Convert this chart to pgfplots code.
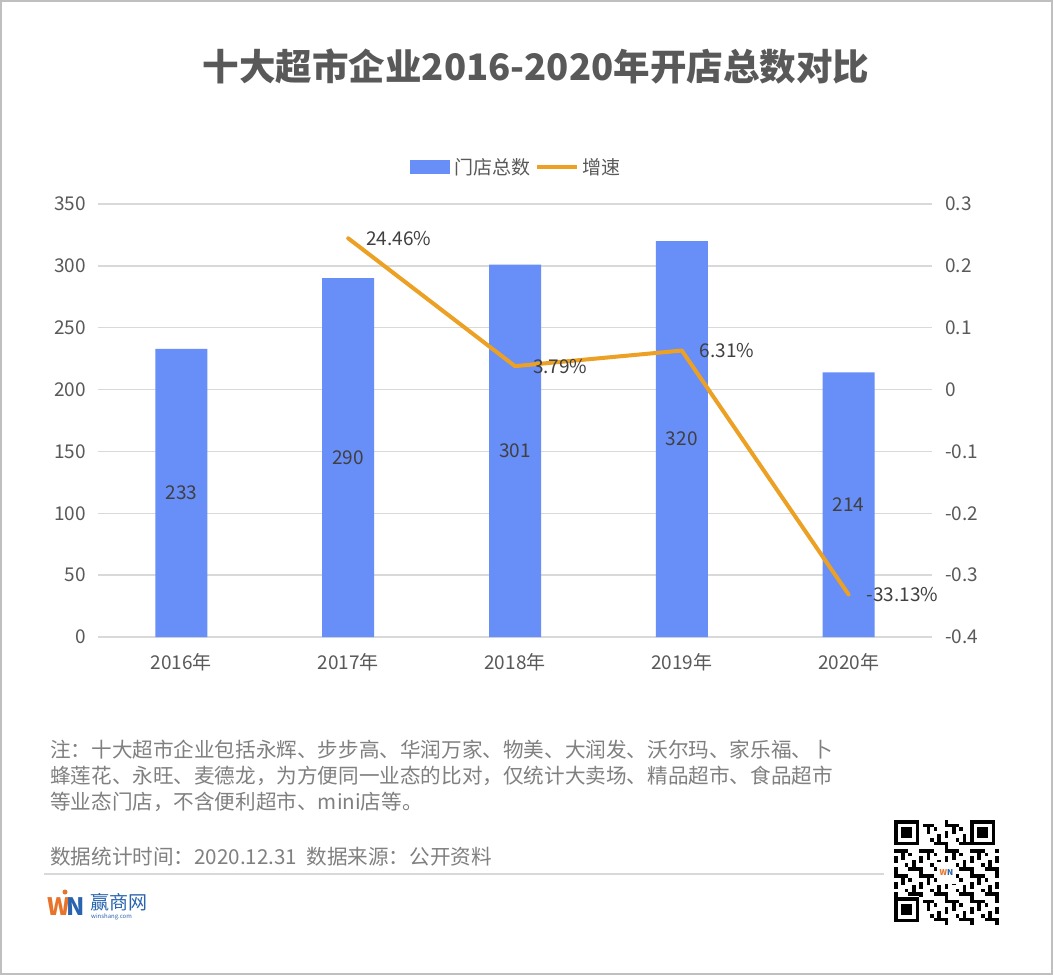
\documentclass[border=0pt]{standalone}
\usepackage{pgfplots}
\pgfplotsset{compat=1.18}
\usepackage{fontspec}
\setmainfont{Noto Sans CJK SC}
\definecolor{barblue}{RGB}{104,142,248}
\definecolor{lineorange}{RGB}{236,160,36}
\definecolor{txtgray}{RGB}{89,89,89}
\definecolor{lblgray}{RGB}{64,64,64}
\definecolor{notegray}{RGB}{128,128,128}
\definecolor{gridgray}{RGB}{217,217,217}
\definecolor{bordergray}{RGB}{191,191,191}
\definecolor{wnorange}{RGB}{232,115,42}
\definecolor{wnblue}{RGB}{40,100,175}
\newcommand{\lblfont}{\fontsize{19}{23}\selectfont}
\begin{document}
\begin{tikzpicture}[x=1pt,y=1pt]
\fill[white] (0,0) rectangle (1053,-975);
\draw[bordergray, line width=2pt] (1,-1) rectangle (1052,-974);
% title
\node[font=\fontsize{36.5}{44}\selectfont\bfseries, text=txtgray, inner sep=0] at (536,-66) {十大超市企业2016-2020年开店总数对比};
% legend
\fill[barblue] (410,-160) rectangle (450,-174);
\node[anchor=west, font=\lblfont, text=txtgray, inner sep=0] at (454,-167) {门店总数};
\draw[lineorange, line width=4pt] (537,-167) -- (577,-167);
\node[anchor=west, font=\lblfont, text=txtgray, inner sep=0] at (582,-167) {增速};

\begin{axis}[at={(98pt,-637pt)}, anchor=south west, scale only axis,
  width=834pt, height=433pt,
  ybar, bar width=52pt,
  xmin=-0.5, xmax=4.5, ymin=0, ymax=350,
  xtick={0,1,2,3,4}, xticklabels={2016年,2017年,2018年,2019年,2020年},
  ytick={0,50,100,150,200,250,300,350},
  yticklabels={0,50,100,150,200,250,300,350},
  ymajorgrids, grid style={gridgray, line width=1.5pt},
  axis line style={draw=none}, major tick length=0pt,
  tick label style={font=\lblfont, text=txtgray, inner sep=0pt},
  yticklabel style={anchor=east, xshift=-12pt},
  xticklabel style={anchor=north, yshift=-16pt},
  /pgf/number format/assume math mode=true,
  nodes near coords,
  visualization depends on=rawy\as\rawy,
  every node near coord/.append style={anchor=center, shift={(axis direction cs:0,-\rawy/2)}, font=\lblfont, text=lblgray},
  clip=false]
\addplot[fill=barblue, draw=none] coordinates {(0,233)(1,290)(2,301)(3,320)(4,214)};
\end{axis}

\begin{axis}[at={(98pt,-637pt)}, anchor=south west, scale only axis,
  width=834pt, height=433pt,
  xmin=-0.5, xmax=4.5, ymin=-0.4, ymax=0.3,
  axis x line=none, axis y line*=right,
  axis line style={draw=none}, major tick length=0pt,
  ytick={-0.4,-0.3,-0.2,-0.1,0,0.1,0.2,0.3},
  yticklabels={-0.4,-0.3,-0.2,-0.1,0,0.1,0.2,0.3},
  tick label style={font=\lblfont, text=txtgray, inner sep=0pt},
  yticklabel style={anchor=west, xshift=13pt},
  clip=false]
\addplot[lineorange, line width=4pt, line join=round, line cap=round, mark=none,
  nodes near coords, point meta=explicit symbolic,
  every node near coord/.style={anchor=west, xshift=16pt, font=\lblfont, text=lblgray, inner sep=0pt}]
  coordinates {(1,0.2446)[24.46\%] (2,0.0379)[3.79\%] (3,0.0631)[6.31\%] (4,-0.3313)[-33.13\%]};
\end{axis}

% notes
\begin{scope}[every node/.style={anchor=west, inner sep=0, text=notegray, font=\fontsize{20.6}{24}\selectfont}]
\node at (50,-750) {注：十大超市企业包括永辉、步步高、华润万家、物美、大润发、沃尔玛、家乐福、卜};
\node at (50,-776) {蜂莲花、永旺、麦德龙，为方便同一业态的比对，仅统计大卖场、精品超市、食品超市};
\node at (50,-802) {等业态门店，不含便利超市、mini店等。};
\node at (50,-857) {数据统计时间：2020.12.31\ \ 数据来源：公开资料};
\end{scope}
\draw[gridgray, line width=2pt] (44,-874) -- (884,-874);
% logo
\node[anchor=west, inner sep=0, font=\fontsize{24}{24}\selectfont\bfseries\itshape] at (47,-907) {\textcolor{wnorange}{W}\kern-3pt\textcolor{wnblue}{N}};
\fill[wnorange] (65,-892) circle (2.5);
\node[anchor=west, inner sep=0, text=wnblue, font=\fontsize{19}{20}\selectfont] at (90,-902) {赢商网};
\node[anchor=west, inner sep=0, text=wnblue, font=\fontsize{6}{7}\selectfont\itshape] at (91,-917) {winshang.com};
% QR-like decoration
\begin{scope}[shift={(894,-820)}]
 \fill[white] (0,0) rectangle (105,-106);
 \foreach \i in {0,...,28}{\foreach \j in {0,...,28}{
   \pgfmathtruncatemacro\v{mod(\i*\i*3+\j*7+\i*\j*5+\j*\j,7)}
   \ifnum\v<3 \fill[black] (\i*3.62,-\j*3.62) rectangle ++(3.62,-3.62);\fi
 }}
 \foreach \a/\b in {0/0,76/0,0/-77}{
   \fill[white] (\a,\b) rectangle ++(29,-29);
   \fill[black] (\a,\b) rectangle ++(25.3,-25.3);
   \fill[white] (\a+3.6,\b-3.6) rectangle ++(18.1,-18.1);
   \fill[black] (\a+7.2,\b-7.2) rectangle ++(10.9,-10.9);
 }
 \fill[white] (43,-42) rectangle (62,-64);
 \node[inner sep=0, font=\fontsize{8}{8}\selectfont\bfseries] at (52.5,-53) {\textcolor{wnorange}{W}\textcolor{wnblue}{N}};
\end{scope}
\end{tikzpicture}
\end{document}
